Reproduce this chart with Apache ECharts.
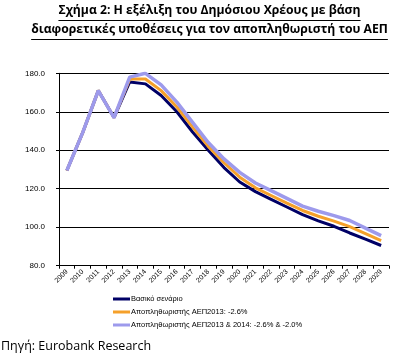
<!DOCTYPE html>
<html><head><meta charset="utf-8">
<script src="https://cdn.jsdelivr.net/npm/echarts@6/dist/echarts.min.js"></script>
<style>html,body{margin:0;padding:0;background:#fff}#c{width:419px;height:356px}</style>
</head><body><div id="c"></div>
<script>
var years = ['2009','2010','2011','2012','2013','2014','2015','2016','2017','2018','2019','2020','2021','2022','2023','2024','2025','2026','2027','2028','2029'];
var baseScenario = [129.5,149,171,157,175.5,174.5,168.5,160,149.5,140,131,123.5,118.5,114.5,110.5,106.5,103.3,100.5,97,93.8,90.5];
var deflator2013 = [129.5,149,171,157,177,177,171,162.5,152,142,133.5,126,120.5,116.5,112.5,108.7,105.7,103.2,100.3,96.7,93];
var deflator2013_2014 = [129.5,149,171,157,178,180,174,165,154.5,144,135.5,128.5,123,119,115,111,108.3,106,103.5,99.5,95.6];
var seriesNames = ['Βασικό σενάριο','Αποπληθωριστής ΑΕΠ2013: -2.6%','Αποπληθωριστής ΑΕΠ2013 & 2014: -2.6% & -2.0%'];
var titleLines = ['Σχήμα 2: Η εξέλιξη του Δημόσιου Χρέους με βάση','διαφορετικές υποθέσεις για τον αποπληθωριστή του ΑΕΠ'];
var sourceText = 'Πηγή: Eurobank Research';

var chart = echarts.init(document.getElementById('c'), null, {renderer:'canvas'});
var titleFont = 'bold 12.2px "Open Sans"';
function tw(s, f){var cv=document.createElement('canvas').getContext('2d');cv.font=f;return cv.measureText(s).width;}
var w1 = tw(titleLines[0], titleFont), w2 = tw(titleLines[1], titleFont);
chart.setOption({
  animation:false,
  grid:{left:59,right:30,top:73.3,bottom:90.3,containLabel:false},
  xAxis:{type:'category',data:years,boundaryGap:true,
    axisLine:{lineStyle:{color:'#000',width:1}},
    axisTick:{show:true,length:3,lineStyle:{color:'#000'}},
    axisLabel:{rotate:45,fontSize:7,fontFamily:'Arial',color:'#000',margin:5,interval:0}},
  yAxis:{type:'value',min:80,max:180,interval:20,
    axisLine:{show:true,lineStyle:{color:'#000'}},
    axisTick:{show:true,length:3,lineStyle:{color:'#000'}},
    axisLabel:{fontSize:8,fontFamily:'Arial',color:'#000',margin:14,formatter:function(v){return v.toFixed(1);}},
    splitLine:{lineStyle:{color:'#000',width:1}}},
  legend:{orient:'vertical',left:108,top:290,itemWidth:17,itemHeight:3,itemGap:5,icon:'rect',
    textStyle:{fontSize:7.5,fontFamily:'Arial',color:'#000',padding:[0,0,0,-4]},
    data:seriesNames},
  series:[
    {name:seriesNames[0],type:'line',data:baseScenario,symbol:'none',lineStyle:{color:'#000066',width:3},itemStyle:{color:'#000066'}},
    {name:seriesNames[1],type:'line',data:deflator2013,symbol:'none',lineStyle:{color:'#f5a02a',width:3},itemStyle:{color:'#f5a02a'}},
    {name:seriesNames[2],type:'line',data:deflator2013_2014,symbol:'none',lineStyle:{color:'#9d9aec',width:3.5},itemStyle:{color:'#9d9aec'}}
  ],
  graphic:[
    {type:'text',left:'center',top:5,style:{text:titleLines[0],font:titleFont,fill:'#000'}},
    {type:'line',shape:{x1:209.5-w1/2,y1:20.5,x2:209.5+w1/2,y2:20.5},style:{stroke:'#000',lineWidth:1}},
    {type:'text',left:'center',top:24,style:{text:titleLines[1],font:titleFont,fill:'#000'}},
    {type:'line',shape:{x1:209.5-w2/2,y1:39.5,x2:209.5+w2/2,y2:39.5},style:{stroke:'#000',lineWidth:1}},
    {type:'text',left:1,top:340,style:{text:sourceText,font:'12.5px "Open Sans"',fill:'#000'}}
  ]
});
</script></body></html>
